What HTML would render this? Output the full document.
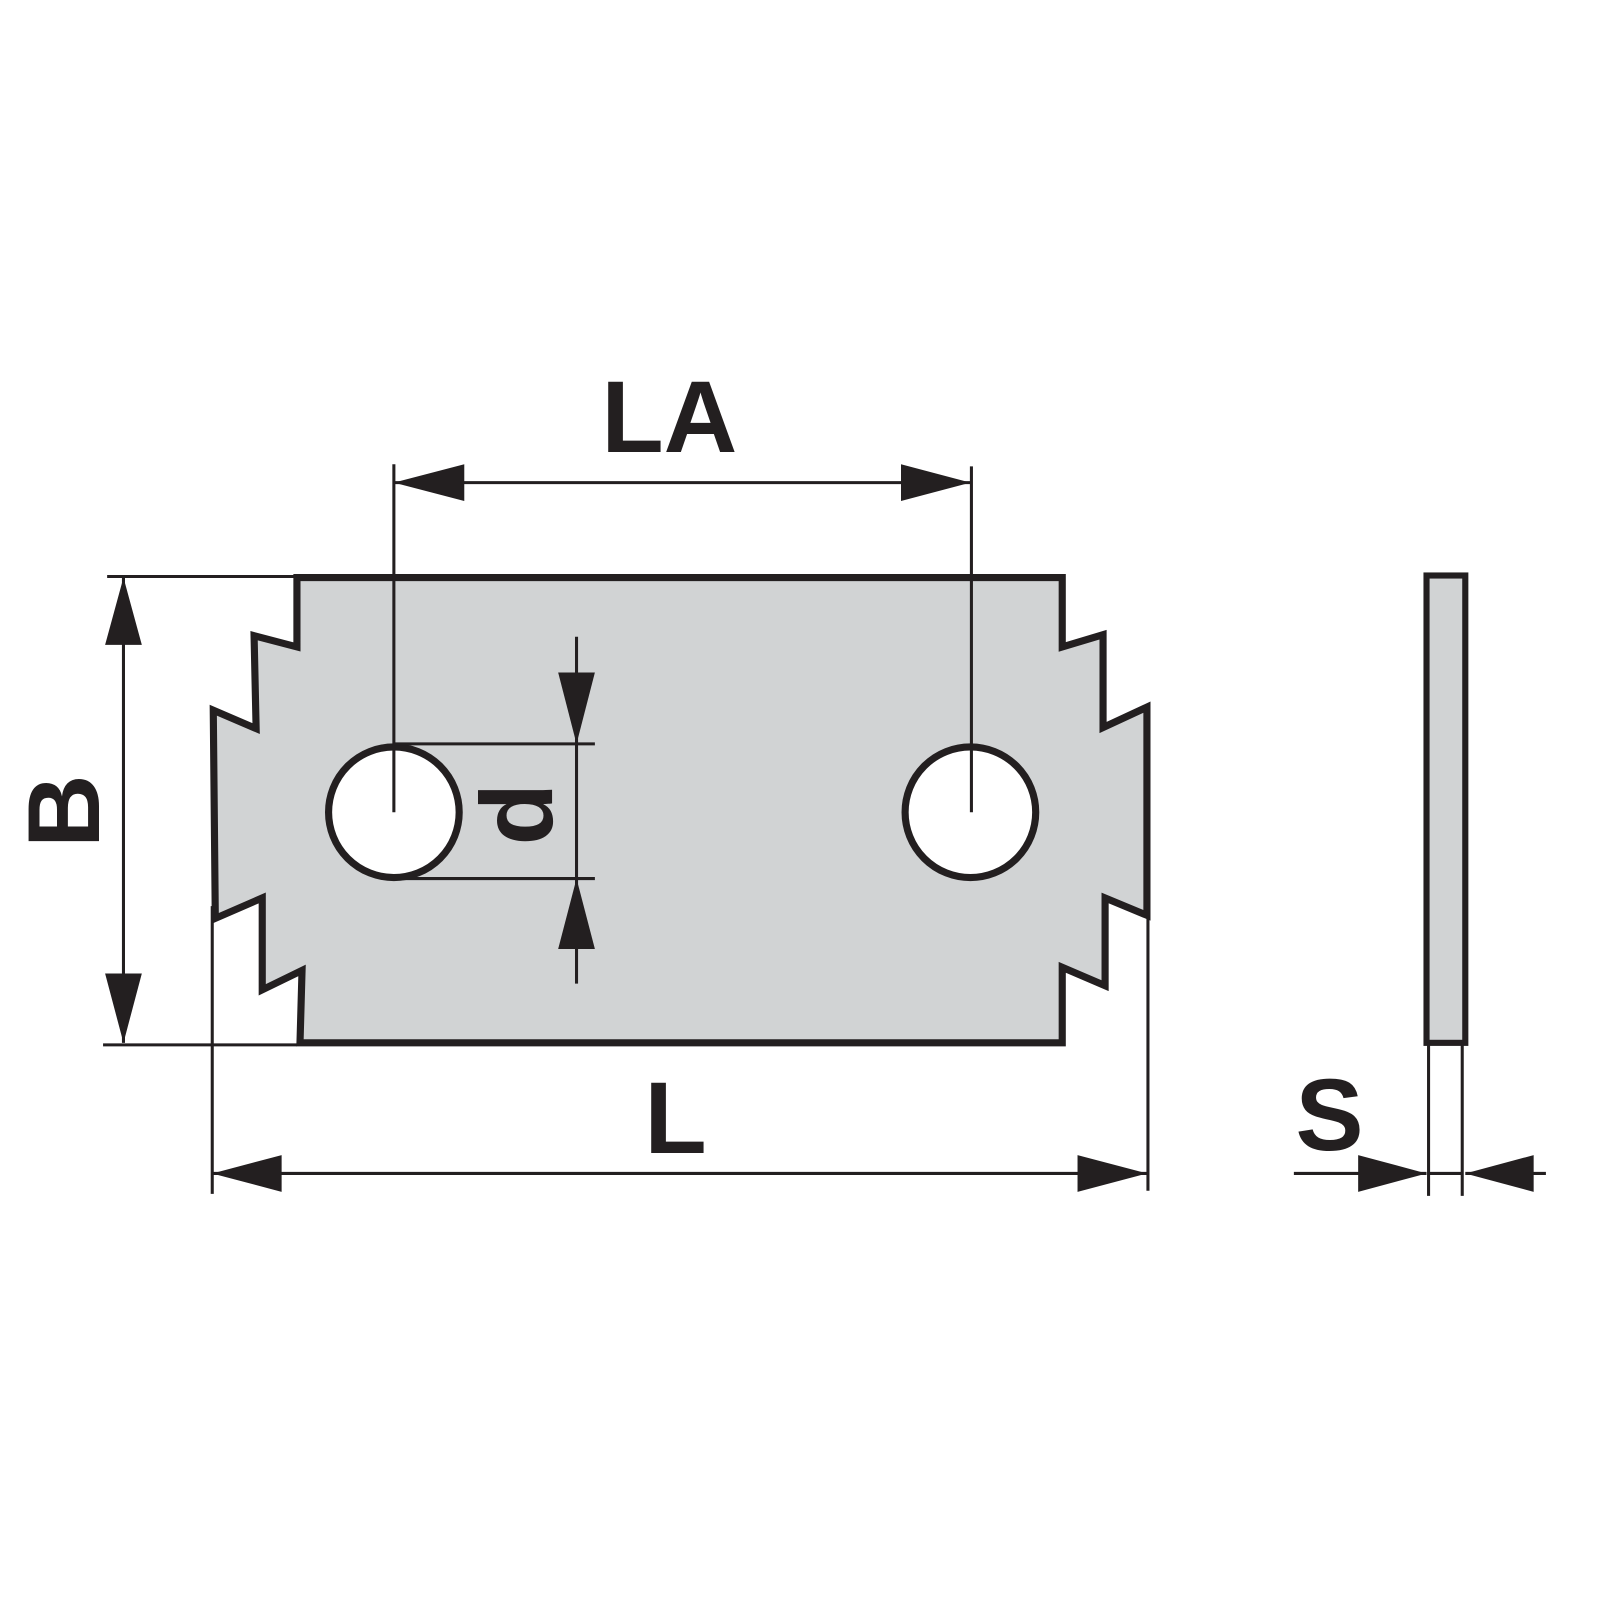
<!DOCTYPE html>
<html><head><meta charset="utf-8"><style>html,body{margin:0;padding:0;background:#fff}svg{display:block}</style></head>
<body>
<svg width="1600" height="1600" viewBox="0 0 1600 1600" xmlns="http://www.w3.org/2000/svg">
<g transform="scale(1.0204)">
<g stroke="#231f20" fill="none">
<path d="M291,566 L1041,566 L1041,634 L1081,622 L1081,713 L1124,693 L1124,897 L1083,880 L1083,966 L1041,948 L1041,1022 L294,1022 L296,951 L257,970 L257,880 L211,900 L209,696 L251,714 L249,623 L291,634 Z" fill="#d1d3d4" stroke-width="7"/>
<circle cx="386" cy="796" r="64" fill="#fff" stroke-width="7"/>
<circle cx="951" cy="796" r="64" fill="#fff" stroke-width="7"/>
<rect x="1398" y="564" width="38" height="458" fill="#d1d3d4" stroke-width="6"/>
<g stroke-width="3">
<line x1="386" y1="455" x2="386" y2="796"/>
<line x1="952" y1="457" x2="952" y2="796"/>
<line x1="386" y1="473" x2="951" y2="473"/>
<line x1="105" y1="565" x2="291" y2="565"/>
<line x1="101" y1="1024" x2="291" y2="1024"/>
<line x1="121" y1="566" x2="121" y2="1022"/>
<line x1="208" y1="888" x2="208" y2="1170"/>
<line x1="1125" y1="897" x2="1125" y2="1167"/>
<line x1="208" y1="1150" x2="1124" y2="1150"/>
<line x1="386" y1="729" x2="583" y2="729"/>
<line x1="386" y1="861" x2="583" y2="861"/>
<line x1="565" y1="624" x2="565" y2="964"/>
<line x1="1400" y1="1022" x2="1400" y2="1172"/>
<line x1="1433" y1="1022" x2="1433" y2="1172"/>
<line x1="1268" y1="1150" x2="1398" y2="1150"/>
<line x1="1400" y1="1150" x2="1433" y2="1150"/>
<line x1="1436" y1="1150" x2="1515" y2="1150"/>
</g>
</g>
<g fill="#231f20">
<polygon points="386,473 455,455 455,491"/>
<polygon points="951,473 883,455 883,491"/>
<polygon points="121,566 103,632 139,632"/>
<polygon points="121,1022 103,954 139,954"/>
<polygon points="208,1150 276,1132 276,1168"/>
<polygon points="1124,1150 1056,1132 1056,1168"/>
<polygon points="565,729 547,659 583,659"/>
<polygon points="565,861 547,930 583,930"/>
<polygon points="1398,1150 1331,1132 1331,1168"/>
<polygon points="1436,1150 1503,1132 1503,1168"/>
</g>
<g font-family="Liberation Sans, sans-serif" font-weight="bold" font-size="100" fill="#231f20">
<text x="656" y="443" text-anchor="middle">LA</text>
<text x="662" y="1130" text-anchor="middle">L</text>
<text x="1303" y="1127" text-anchor="middle">S</text>
<text transform="translate(97,795) rotate(-90)" text-anchor="middle">B</text>
<text transform="translate(541,798) rotate(-90)" text-anchor="middle">d</text>
</g>
</g>
</svg>
</body></html>
